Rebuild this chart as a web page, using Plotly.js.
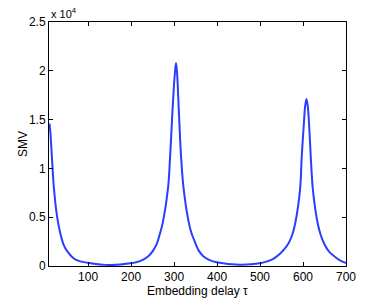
<!DOCTYPE html>
<html>
<head>
<meta charset="utf-8">
<script src="https://cdn.plot.ly/plotly-3.0.1.min.js"></script>
<style>html,body{margin:0;padding:0;background:#fff;}#chart{width:382px;height:300px;}</style>
</head>
<body>
<div id="chart"></div>
<script>
// Embedding delay tau
const tau = [10, 12, 16, 20, 28, 35, 42, 50, 66, 80, 98, 151, 198, 221, 240, 250, 260, 267, 274, 286, 291, 295, 299, 302, 304.5, 307, 309, 312, 316, 322, 334, 341, 349, 357, 368, 383, 399, 453, 500, 515, 530, 545, 556, 566, 575, 582, 593, 597, 602, 605, 608, 611, 614, 618, 623, 634, 641, 649, 660, 674, 687, 700];
// SMV values (units of 1e4 in the picture)
const smv = [1.46, 1.38, 1.10, 0.82, 0.50, 0.34, 0.23, 0.16, 0.08, 0.05, 0.034, 0.01, 0.027, 0.05, 0.10, 0.15, 0.23, 0.33, 0.45, 0.80, 1.14, 1.48, 1.80, 1.98, 2.08, 1.98, 1.80, 1.50, 1.14, 0.80, 0.45, 0.33, 0.24, 0.16, 0.10, 0.06, 0.038, 0.013, 0.028, 0.045, 0.07, 0.12, 0.17, 0.23, 0.32, 0.44, 0.78, 1.12, 1.46, 1.64, 1.71, 1.64, 1.46, 1.12, 0.78, 0.44, 0.32, 0.23, 0.15, 0.095, 0.055, 0.03];
const scale = 1e4;
const yTickVals = [0, 0.5, 1, 1.5, 2, 2.5];
const yTickText = ['0', '0.5', '1', '1.5', '2', '2.5'];
const xTickVals = [100, 200, 300, 400, 500, 600, 700];

const trace = {
  x: tau,
  y: smv.map(v => v * scale),
  type: 'scatter',
  mode: 'lines',
  line: {color: '#2b3dff', width: 2, shape: 'spline', smoothing: 0.9},
  hoverinfo: 'skip'
};

const fontFam = 'Liberation Sans, Arial, sans-serif';
const layout = {
  width: 382, height: 300,
  margin: {l: 49, r: 36, t: 22, b: 34, pad: 0},
  paper_bgcolor: '#fff', plot_bgcolor: '#fff',
  showlegend: false,
  font: {family: fontFam, size: 12, color: '#000'},
  xaxis: {
    range: [9, 700],
    tickvals: xTickVals,
    ticks: 'inside', ticklen: 4, tickcolor: '#000', tickwidth: 1,
    showline: true, linecolor: '#000', linewidth: 1, mirror: 'ticks',
    showgrid: false, zeroline: false,
    tickfont: {family: fontFam, size: 12, color: '#000'}
  },
  yaxis: {
    range: [0, 2.5 * scale],
    tickvals: yTickVals.map(v => v * scale),
    ticktext: yTickText,
    ticks: 'inside', ticklen: 4, tickcolor: '#000', tickwidth: 1,
    showline: true, linecolor: '#000', linewidth: 1, mirror: 'ticks',
    showgrid: false, zeroline: false,
    tickfont: {family: fontFam, size: 12, color: '#000'}
  },
  annotations: [
    {
      xref: 'paper', yref: 'paper', x: 0, y: 1, xanchor: 'left', yanchor: 'bottom',
      text: 'x 10<sup>4</sup>', showarrow: false,
      font: {family: fontFam, size: 11, color: '#000'}
    },
    {
      xref: 'paper', yref: 'paper', x: 0.5, y: -0.1025, xanchor: 'center', yanchor: 'middle',
      text: 'Embedding delay τ', showarrow: false,
      font: {family: fontFam, size: 12, color: '#000'}
    },
    {
      xref: 'paper', yref: 'paper', x: -0.0875, y: 0.5, xanchor: 'center', yanchor: 'middle',
      text: 'SMV', textangle: -90, showarrow: false,
      font: {family: fontFam, size: 12, color: '#000'}
    }
  ]
};

Plotly.newPlot('chart', [trace], layout, {displayModeBar: false, staticPlot: true});
</script>
</body>
</html>
